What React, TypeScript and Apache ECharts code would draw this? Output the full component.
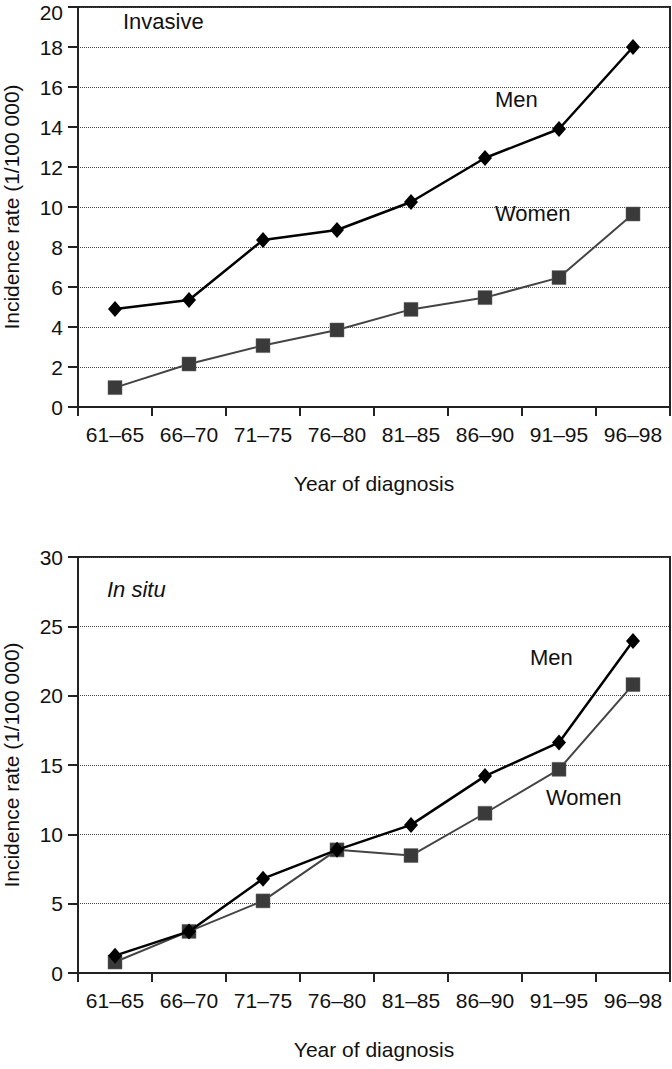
import React, { useEffect, useRef } from "react";
import * as echarts from "echarts";

const categories = ["61\u201365", "66\u201370", "71\u201375", "76\u201380", "81\u201385", "86\u201390", "91\u201395", "96\u201398"];
const invasiveMen = [4.9, 5.35, 8.35, 8.85, 10.25, 12.45, 13.9, 18.0];
const invasiveWomen = [0.97, 2.15, 3.07, 3.85, 4.88, 5.47, 6.47, 9.65];
const inSituMen = [1.25, 3.0, 6.8, 8.88, 10.68, 14.2, 16.63, 23.95];
const inSituWomen = [0.79, 3.0, 5.2, 8.88, 8.47, 11.52, 14.69, 20.8];

const FONT = "'Liberation Sans', Arial, Helvetica, sans-serif";

export default function App() {
  const ref = useRef<HTMLDivElement>(null);
  useEffect(() => {
    document.body.style.margin = "0";
    const chart = echarts.init(ref.current!, null, { renderer: "svg" });
    const xAxisBase = (gridIndex: number) => ({
      type: "category",
      gridIndex,
      data: categories,
      boundaryGap: true,
      axisLine: { show: true, lineStyle: { color: "#222", width: 2 } },
      axisTick: { show: true, length: 9, lineStyle: { color: "#222", width: 2 }, alignWithLabel: false },
      axisLabel: { color: "#111", fontSize: 21, fontFamily: FONT, margin: 17, interval: 0 },
      name: "Year of diagnosis",
      nameLocation: "middle",
      nameGap: 66,
      nameTextStyle: { color: "#111", fontSize: 21, fontFamily: FONT },
      splitLine: { show: false },
    });
    const yAxisBase = (gridIndex: number, max: number, interval: number, nudgeMax: boolean) => ({
      type: "value",
      gridIndex,
      min: 0,
      max,
      interval,
      axisLine: { show: true, lineStyle: { color: "#222", width: 2 } },
      axisTick: { show: true, length: 10, lineStyle: { color: "#222", width: 2 } },
      axisLabel: {
        color: "#111",
        fontSize: 21,
        fontFamily: FONT,
        margin: 15,
        formatter: (v: number) => (nudgeMax && v === max ? `{t|${v}}` : `${v}`),
        rich: { t: { fontSize: 21, fontFamily: FONT, color: "#111", padding: [10, 0, 0, 0] } },
      },
      name: "Incidence rate (1/100 000)",
      nameLocation: "middle",
      nameGap: 56,
      nameRotate: 90,
      nameTextStyle: { color: "#111", fontSize: 21, fontFamily: FONT },
      splitLine: { show: true, lineStyle: { type: "dotted", color: "#444", width: 1 } },
    });
    const menStyle = {
      type: "line",
      symbol: "diamond",
      symbolSize: [14, 16],
      lineStyle: { color: "#000", width: 2.5 },
      itemStyle: { color: "#000" },
      z: 3,
    };
    const womenStyle = {
      type: "line",
      symbol: "rect",
      symbolSize: 14,
      lineStyle: { color: "#444", width: 2 },
      itemStyle: { color: "#3a3a3a", borderColor: "#666", borderWidth: 0.5 },
      z: 2,
    };
    const txt = (x: number, y: number, text: string, italic = false) => ({
      type: "text",
      x,
      y,
      style: {
        text,
        fill: "#111",
        font: `${italic ? "italic " : ""}22px ${FONT}`,
        textVerticalAlign: "middle",
      },
      z: 10,
    });
    chart.setOption({
      animation: false,
      backgroundColor: "#fff",
      grid: [
        { left: 78, top: 7, width: 592, height: 400, show: true, borderColor: "#222", borderWidth: 2, backgroundColor: "transparent", containLabel: false, outerBoundsMode: "none" },
        { left: 78, top: 557, width: 592, height: 416, show: true, borderColor: "#222", borderWidth: 2, backgroundColor: "transparent", containLabel: false, outerBoundsMode: "none" },
      ],
      xAxis: [xAxisBase(0), xAxisBase(1)],
      yAxis: [yAxisBase(0, 20, 2, true), yAxisBase(1, 30, 5, false)],
      series: [
        { ...menStyle, name: "Men", xAxisIndex: 0, yAxisIndex: 0, data: invasiveMen },
        { ...womenStyle, name: "Women", xAxisIndex: 0, yAxisIndex: 0, data: invasiveWomen },
        { ...menStyle, name: "Men", xAxisIndex: 1, yAxisIndex: 1, data: inSituMen },
        { ...womenStyle, name: "Women", xAxisIndex: 1, yAxisIndex: 1, data: inSituWomen },
      ],
      graphic: [
        txt(123, 21, "Invasive"),
        txt(495, 99, "Men"),
        txt(495, 213, "Women"),
        txt(107, 589, "In situ", true),
        txt(530, 657, "Men"),
        txt(546, 797, "Women"),
      ],
    });
    return () => chart.dispose();
  }, []);
  return <div ref={ref} style={{ position: "absolute", left: 0, top: 0, width: 672, height: 1069 }} />;
}
